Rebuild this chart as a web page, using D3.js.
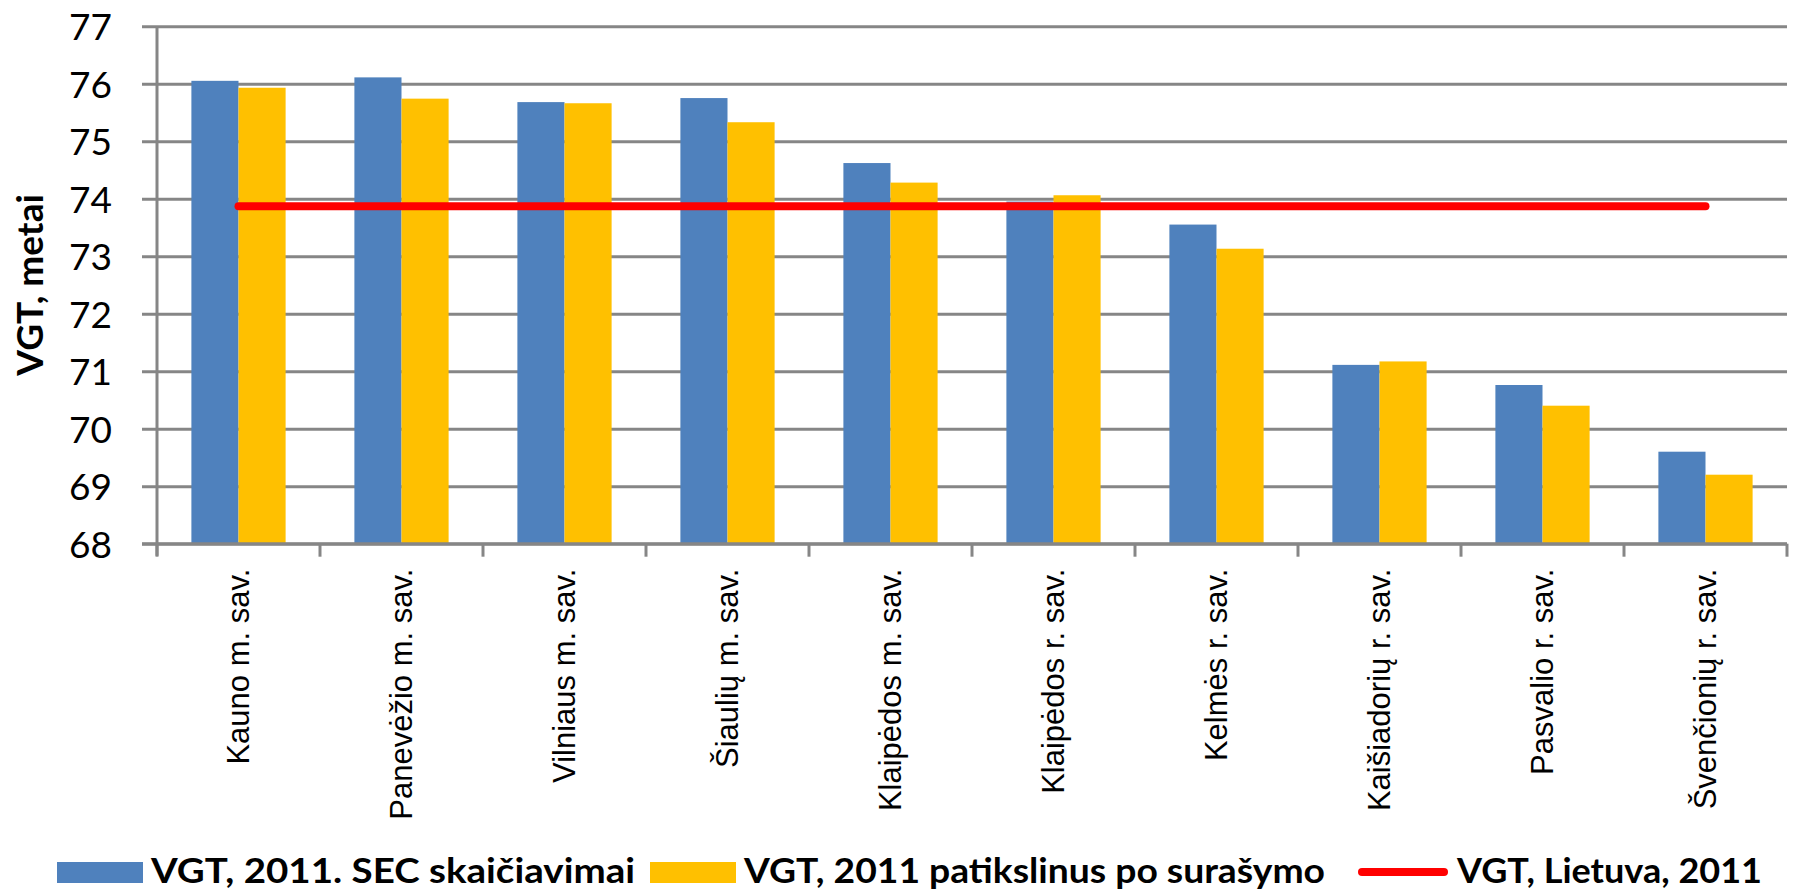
<!DOCTYPE html>
<html>
<head>
<meta charset="utf-8">
<script src="https://cdn.jsdelivr.net/npm/d3@7"></script>
<style>
  body { margin: 0; background: #fff; }
  svg { display: block; }
</style>
</head>
<body>
<svg width="1794" height="891"></svg>
<script>
// data
const categories = ["Kauno m. sav.", "Panevėžio m. sav.", "Vilniaus m. sav.", "Šiaulių m. sav.",
  "Klaipėdos m. sav.", "Klaipėdos r. sav.", "Kelmės r. sav.", "Kaišiadorių r. sav.",
  "Pasvalio r. sav.", "Švenčionių r. sav."];
const secValues = [76.05, 76.11, 75.68, 75.75, 74.62, 73.95, 73.55, 71.11, 70.76, 69.60];
const censusValues = [75.93, 75.74, 75.66, 75.33, 74.28, 74.06, 73.13, 71.17, 70.40, 69.20];
const lithuaniaValue = 73.87;
const yTicks = [68, 69, 70, 71, 72, 73, 74, 75, 76, 77];
const seriesNames = ["VGT, 2011. SEC skaičiavimai", "VGT, 2011 patikslinus po surašymo", "VGT, Lietuva, 2011"];

function drawChart() {
  const svg = d3.select("svg");
  const plotLeft = 157, plotRight = 1787, plotTop = 26.2, plotBottom = 543.7;
  const gridColor = "#868686";

  const x = d3.scaleBand().domain(categories).range([plotLeft, plotRight]).paddingInner(0).paddingOuter(0);
  const x1 = d3.scaleBand().domain(["sec", "census"]).range([0, x.bandwidth()]).paddingInner(0).paddingOuter(0.73);
  const y = d3.scaleLinear().domain([68, 77]).range([plotBottom, plotTop]);

  // gridlines + y tick labels
  const yAxis = svg.append("g")
    .attr("transform", `translate(${plotRight},0)`)
    .call(d3.axisLeft(y).tickValues(yTicks).tickSize(plotRight - 142).tickPadding(30));
  yAxis.select(".domain").remove();
  yAxis.selectAll("line").attr("stroke", gridColor).attr("stroke-width", 3);
  yAxis.selectAll("text")
    .attr("fill", "#000")
    .style("font-family", "Lato, 'Open Sans', sans-serif")
    .style("font-size", "37px")
    .attr("dy", "0.36em");

  // y axis line
  svg.append("line")
    .attr("x1", plotLeft).attr("x2", plotLeft)
    .attr("y1", plotTop).attr("y2", plotBottom + 12)
    .attr("stroke", gridColor).attr("stroke-width", 3);

  // bars
  const rows = categories.map((c, i) => ({ cat: c, sec: secValues[i], census: censusValues[i] }));
  const colors = { sec: "#4F81BD", census: "#FFC000" };
  const groups = svg.append("g").selectAll("g")
    .data(rows)
    .enter()
    .append("g")
    .attr("transform", (d) => `translate(${x(d.cat)},0)`);
  groups.selectAll("rect")
    .data((d) => ["sec", "census"].map((k) => ({ key: k, value: d[k] })))
    .enter()
    .append("rect")
    .attr("x", (d) => x1(d.key))
    .attr("width", x1.bandwidth())
    .attr("y", (d) => y(d.value))
    .attr("height", (d) => y(68) - y(d.value))
    .attr("fill", (d) => colors[d.key]);

  // x axis line and boundary ticks
  svg.append("line")
    .attr("x1", 142).attr("x2", plotRight)
    .attr("y1", plotBottom).attr("y2", plotBottom)
    .attr("stroke", gridColor).attr("stroke-width", 3);
  svg.append("g").selectAll("line")
    .data(categories.concat(["end"]))
    .enter()
    .append("line")
    .attr("x1", (d) => (d === "end" ? plotRight : x(d)))
    .attr("x2", (d) => (d === "end" ? plotRight : x(d)))
    .attr("y1", plotBottom).attr("y2", plotBottom + 13)
    .attr("stroke", gridColor).attr("stroke-width", 3);

  const xAxis = svg.append("g")
    .attr("transform", `translate(0,${plotBottom})`)
    .call(d3.axisBottom(x).tickSize(0));
  xAxis.select(".domain").remove();
  xAxis.selectAll("text")
    .attr("fill", "#000")
    .style("font-family", "'Liberation Sans', Arial, sans-serif")
    .style("font-size", "31px")
    .attr("text-anchor", "end")
    .attr("transform", "rotate(-90)")
    .attr("x", -25)
    .attr("y", 0)
    .attr("dy", "0.35em");

  // Lithuania line
  const line = d3.line().x((d) => x(d) + x.bandwidth() / 2).y(() => y(lithuaniaValue));
  svg.append("path")
    .datum(categories)
    .attr("d", line)
    .attr("fill", "none")
    .attr("stroke", "#FF0000")
    .attr("stroke-width", 8)
    .attr("stroke-linecap", "round");

  // y title
  svg.append("text")
    .attr("transform", `translate(43,${(plotTop + plotBottom) / 2}) rotate(-90)`)
    .attr("text-anchor", "middle")
    .style("font-family", "Lato, 'Open Sans', sans-serif")
    .style("font-weight", "bold")
    .style("font-size", "37px")
    .text("VGT, metai");

  // legend
  const legend = svg.append("g");
  const legendY = 872;
  legend.append("rect").attr("x", 57).attr("y", 862).attr("width", 86).attr("height", 21).attr("fill", colors.sec);
  legend.append("rect").attr("x", 650).attr("y", 862).attr("width", 86).attr("height", 21).attr("fill", colors.census);
  legend.append("line")
    .attr("x1", 1362).attr("x2", 1444)
    .attr("y1", legendY).attr("y2", legendY)
    .attr("stroke", "#FF0000").attr("stroke-width", 8).attr("stroke-linecap", "round");
  const legendText = [
    { x: 151, w: 484, t: seriesNames[0] },
    { x: 744, w: 581, t: seriesNames[1] },
    { x: 1457, w: 305, t: seriesNames[2] }
  ];
  legend.selectAll("text.leg")
    .data(legendText)
    .enter()
    .append("text")
    .attr("class", "leg")
    .attr("x", (d) => d.x)
    .attr("y", 883)
    .attr("textLength", (d) => d.w)
    .attr("lengthAdjust", "spacingAndGlyphs")
    .style("font-family", "Lato, 'Open Sans', sans-serif")
    .style("font-weight", "bold")
    .style("font-size", "34px")
    .text((d) => d.t);
}

drawChart();
</script>
</body>
</html>
